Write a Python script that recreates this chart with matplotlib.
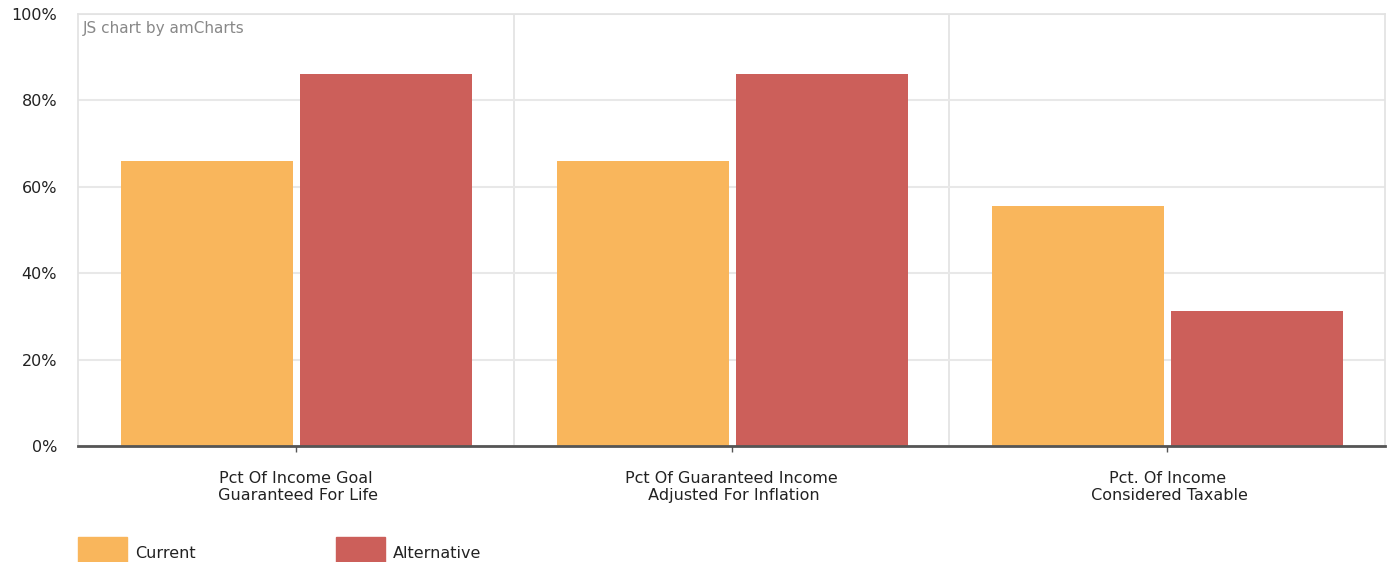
import numpy as np
import matplotlib.pyplot as plt
from matplotlib.patches import Rectangle

categories = ['Pct Of Income Goal\n Guaranteed For Life',
              'Pct Of Guaranteed Income\n Adjusted For Inflation',
              'Pct. Of Income\n Considered Taxable']
current = [66, 66, 55.5]
alternative = [86.2, 86.2, 31.3]
y_ticks = [0, 20, 40, 60, 80, 100]

c_cur = '#f9b65c'
c_alt = '#cc5f5a'

plt.rcParams['font.family'] = ['DejaVu Sans']

W, H = 1392, 562
fig = plt.figure(figsize=(W / 100, H / 100), dpi=100)
ax = fig.add_axes([78 / W, (H - 446) / H, (1385 - 78) / W, (446 - 14) / H])

x = np.arange(len(categories))
bw = 0.395
ax.bar(x - 0.204, current, bw, color=c_cur, zorder=3)
ax.bar(x + 0.207, alternative, bw, color=c_alt, zorder=3)

ax.set_xlim(-0.5, len(categories) - 0.5)
ax.set_ylim(0, 100)
ax.set_yticks(y_ticks)
ax.set_yticklabels(['{}%'.format(t) for t in y_ticks], fontsize=11.5, color='#222222')
ax.yaxis.grid(True, color='#e8e8e8', linewidth=1.5, zorder=0)
for b in x[:-1] + 0.5:
    ax.axvline(b, color='#e2e2e2', linewidth=1.2, zorder=0)
ax.tick_params(axis='y', length=0, pad=15)

ax.set_xticks(x)
ax.set_xticklabels(categories, fontsize=11.5, color='#222222', linespacing=1.2)
ax.tick_params(axis='x', length=4, width=1, color='#555555', pad=14)

for side in ['left', 'right', 'top']:
    ax.spines[side].set_color('#e2e2e2')
    ax.spines[side].set_linewidth(1.2)
ax.spines['bottom'].set_color('#555555')
ax.spines['bottom'].set_linewidth(2)
ax.spines['bottom'].set_zorder(4)

ax.text(0.004, 0.983, 'JS chart by amCharts', transform=ax.transAxes,
        fontsize=11, color='#888888', ha='left', va='top')

# legend
for x0, col, label in [(78, c_cur, 'Current'), (336, c_alt, 'Alternative')]:
    fig.patches.append(Rectangle((x0 / W, 0), 49 / W, 25 / H, color=col,
                                 transform=fig.transFigure, figure=fig))
    fig.text((x0 + 57) / W, 9 / H, label, fontsize=11.5, color='#222222',
             ha='left', va='center')

fig.savefig('out.png', dpi=100)
